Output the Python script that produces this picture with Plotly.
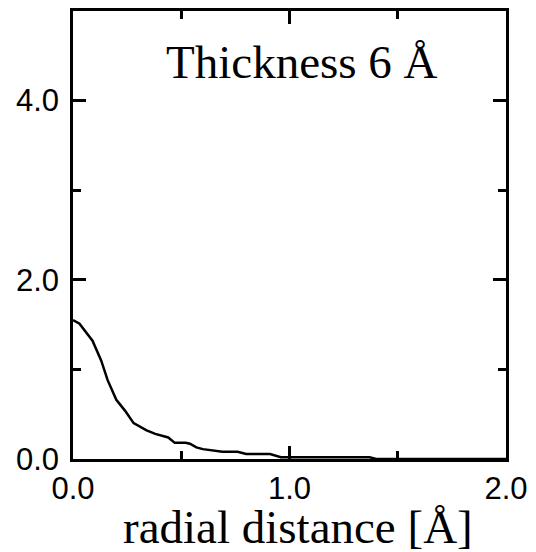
import plotly.graph_objects as go

# radial distance [Å]
r = [0.0, 0.03, 0.09, 0.13, 0.16, 0.20, 0.24, 0.28, 0.34, 0.38, 0.44, 0.47, 0.52, 0.54,
     0.57, 0.60, 0.69, 0.76, 0.80, 0.91, 0.96, 1.00, 1.37, 1.40, 2.00]
# density
dens = [1.55, 1.51, 1.32, 1.10, 0.88, 0.66, 0.54, 0.40, 0.32, 0.28, 0.24, 0.18, 0.18, 0.17,
        0.13, 0.11, 0.08, 0.08, 0.055, 0.055, 0.02, 0.02, 0.02, 0.0, 0.0]

title_text = "Thickness 6 Å"
xlabel = "radial distance [Å]"

fig = go.Figure()
fig.add_trace(go.Scatter(x=r, y=dens, mode="lines",
                         line=dict(color="black", width=2.5), showlegend=False))

sans = "Liberation Sans, Arial, sans-serif"
serif = "Liberation Serif, Times New Roman, serif"

fig.update_layout(
    width=536, height=552,
    margin=dict(l=73, r=27, t=8, b=93),
    paper_bgcolor="white", plot_bgcolor="white",
    font=dict(family=sans, size=31, color="black"),
)
fig.update_xaxes(
    range=[0, 2], tickvals=[0, 1, 2], ticktext=["0.0", "1.0", "2.0"],
    ticks="inside", ticklen=13, tickwidth=2.5, tickcolor="black",
    minor=dict(tickvals=[0.5, 1.5], ticks="inside", ticklen=8, tickwidth=2.5, tickcolor="black"),
    showline=True, linewidth=2.5, linecolor="black", mirror="ticks",
    showgrid=False, zeroline=False,
    tickfont=dict(family=sans, size=31),
)
fig.update_yaxes(
    range=[0, 5], tickvals=[0, 2, 4], ticktext=["0.0", "2.0", "4.0"],
    ticks="inside", ticklen=13, tickwidth=2.5, tickcolor="black",
    minor=dict(tickvals=[1, 3], ticks="inside", ticklen=8, tickwidth=2.5, tickcolor="black"),
    showline=True, linewidth=2.5, linecolor="black", mirror="ticks",
    showgrid=False, zeroline=False,
    tickfont=dict(family=sans, size=31),
    ticklabelstandoff=5,
)
fig.add_annotation(
    text=title_text, xref="paper", yref="paper", x=0.53, y=0.887,
    xanchor="center", yanchor="middle", showarrow=False,
    font=dict(family=serif, size=47, color="black"),
)
fig.add_annotation(
    text=xlabel, xref="paper", yref="paper", x=0.52, y=-0.0895,
    xanchor="center", yanchor="top", showarrow=False,
    font=dict(family=serif, size=47, color="black"),
)
fig.write_html("out.html")
